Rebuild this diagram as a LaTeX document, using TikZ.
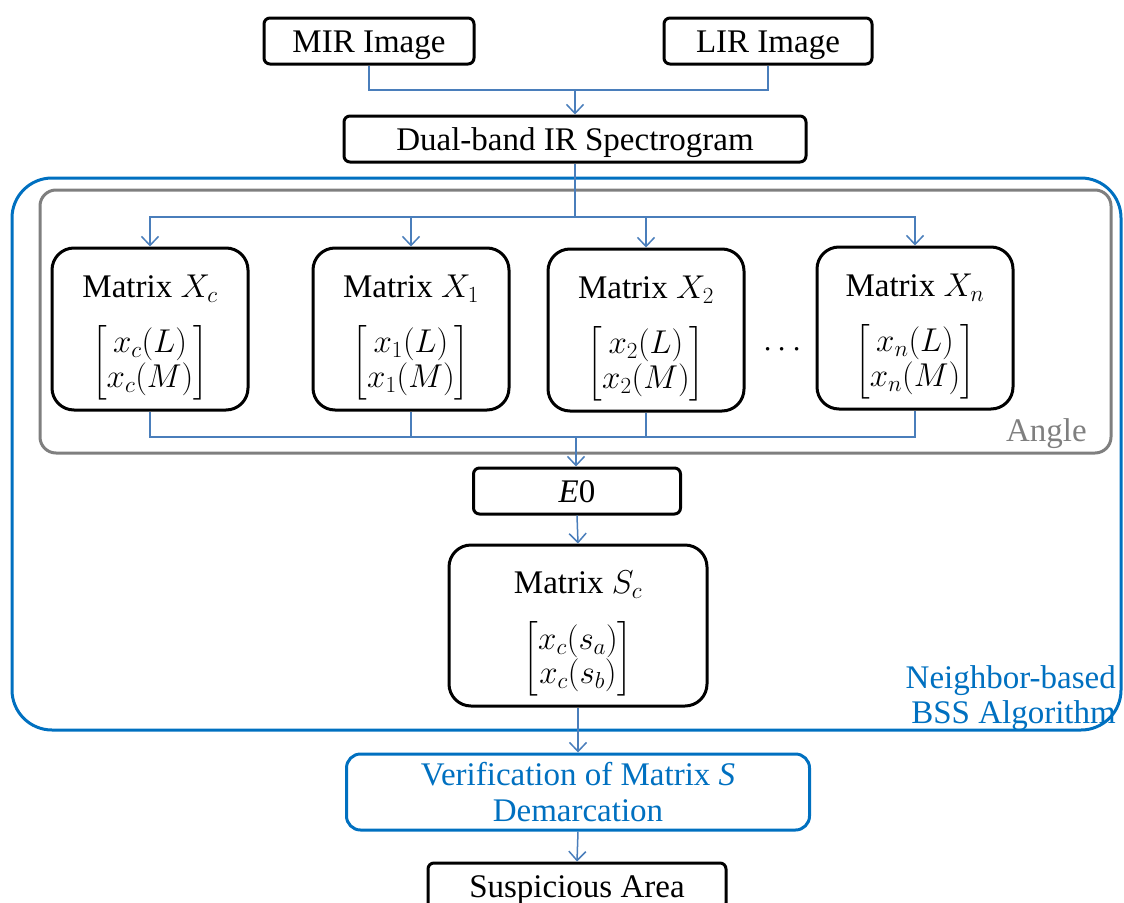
\RequirePackage{fix-cm}
\documentclass[tikz,border=0pt]{standalone}
\usepackage{amsmath}
\usepackage{fontspec}
\setmainfont{LiberationSerif}[
  Extension=.ttf,
  UprightFont=*-Regular,
  ItalicFont=*-Italic,
  BoldFont=*-Bold,
  BoldItalicFont=*-BoldItalic]
\usetikzlibrary{arrows.meta}
\definecolor{linkblue}{HTML}{4A7EBB}
\definecolor{frameblue}{HTML}{0070C0}
\definecolor{framegray}{HTML}{7F7F7F}
% title line plus a two-row column vector, with extra room above the title
\newcommand{\matcontent}[3]{\rule{0pt}{39pt}Matrix $#1$\\[22pt]%
  {\renewcommand{\arraystretch}{0.9}$\begin{bmatrix}#2\\#3\end{bmatrix}$}}

\begin{document}
\begin{tikzpicture}[x=1pt,y=-1pt,
  every node/.style={font=\rmfamily\fontsize{33}{36}\selectfont},
  plainbox/.style={draw=black, line width=3pt, rounded corners=6pt, inner sep=0pt,
                   minimum height=46pt, text height=23pt, text depth=0pt},
  matbox/.style={draw=black, line width=3pt, rounded corners=22pt, inner sep=0pt,
                 minimum width=196pt, minimum height=162pt, align=center},
  link/.style={draw=linkblue, line width=1.5pt},
  flow/.style={link, -{Straight Barb[length=9pt,width=17pt]}},
]
\path[use as bounding box, clip] (0,0) rectangle (1124,902);

% input images and the combined spectrogram
\node[plainbox, minimum width=210pt] (mir) at (369,41) {MIR Image};
\node[plainbox, minimum width=208pt] (lir) at (768,41) {LIR Image};
\node[plainbox, minimum width=462pt] (spec) at (575,139) {Dual-band IR Spectrogram};

% enclosing frames
\node[draw=frameblue, line width=3pt, rounded corners=40pt, inner sep=0pt,
      minimum width=1109pt, minimum height=552pt] (bss) at (566.5,454) {};
\node[draw=framegray, line width=3pt, rounded corners=16pt, inner sep=0pt,
      minimum width=1071pt, minimum height=263pt] (angle) at (575.5,321.5) {};

% per-angle matrices
\node[matbox] (xc) at (150,329) {\matcontent{X_c}{x_c(L)}{x_c(M)}};
\node[matbox] (x1) at (411,329) {\matcontent{X_1}{x_1(L)}{x_1(M)}};
\node[matbox] (x2) at (646,330) {\matcontent{X_2}{x_2(L)}{x_2(M)}};
\node[matbox] (xn) at (915,328) {\matcontent{X_n}{x_n(L)}{x_n(M)}};
\node (dots) at (785,350) {$\cdots$};

% separation stage
\node[plainbox, minimum width=207pt] (e0) at (577,491) {\textit{E}0};
\node[matbox, minimum width=258pt, minimum height=161pt] (sc) at (578,625.5)
  {\matcontent{S_c}{x_c(s_a)}{x_c(s_b)}};

% verification and result
\node[draw=frameblue, line width=3pt, rounded corners=14pt, inner sep=0pt,
      minimum width=463pt, minimum height=76pt, text=frameblue, align=center]
  (ver) at (578,792) {Verification of Matrix \textit{S}\\Demarcation};
\node[plainbox, minimum width=298pt] (sus) at (577,886) {Suspicious Area};

% frame labels
\node[text=framegray, anchor=base east, inner sep=0pt] (anglelbl) at (1087,441) {Angle};
\node[text=frameblue, align=right, anchor=north east, inner sep=0pt,
      font=\rmfamily\fontsize{33}{35}\selectfont] (bsslbl) at (1116,665)
  {Neighbor-based\\BSS Algorithm};

% connectors
\coordinate (merge) at (575,90);
\draw[link] (mir.south) |- (merge) -| (lir.south);
\draw[flow] (merge) -- (spec.north);

\coordinate (split) at (575,217);
\draw[link] (spec.south) -- (split);
\draw[flow] (split) -| (xc.north);
\draw[flow] (split) -| (xn.north);
\draw[flow] (x1.north |- split) -- (x1.north);
\draw[flow] (x2.north |- split) -- (x2.north);

\coordinate (gather) at (576,437);
\draw[link] (xc.south) |- (gather) -| (xn.south);
\draw[link] (x1.south) -- (x1.south |- gather);
\draw[link] (x2.south) -- (x2.south |- gather);
\draw[flow] (gather) -- (gather |- e0.north);

\draw[flow] (e0.south) -- (sc.north);
\draw[flow] (sc.south) -- (ver.north);
\draw[flow] (ver.south) -- (sus.north);
\end{tikzpicture}
\end{document}
